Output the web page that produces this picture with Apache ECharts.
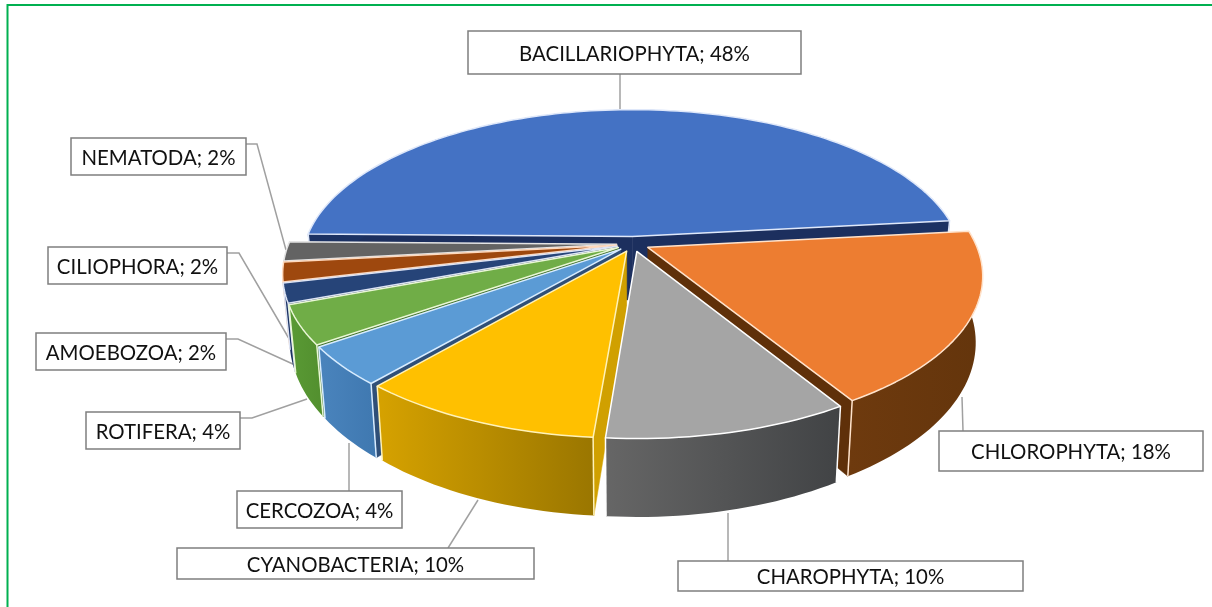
<!DOCTYPE html>
<html><head><meta charset="utf-8">
<style>html,body{margin:0;padding:0;background:#fff}#c{width:1212px;height:607px}</style>
<script src="https://cdn.jsdelivr.net/npm/echarts@6/dist/echarts.min.js"></script>
</head><body><div id="c"></div>
<script>
// ---- data ----
const categories = ['BACILLARIOPHYTA','CHLOROPHYTA','CHAROPHYTA','CYANOBACTERIA','CERCOZOA','ROTIFERA','AMOEBOZOA','CILIOPHORA','NEMATODA'];
const percents = [48,18,10,10,4,4,2,2,2];
// ---- style ----
const topColors = ['#4472C4','#ED7D31','#A5A5A5','#FFC000','#5B9BD5','#70AD47','#264478','#9E480E','#636363'];
const wallColors = [['#1c3263','#1c3263'],['#6e3a0e','#64350c'],['#666666','#414345'],['#d6a200','#9a7600'],['#4a84bd','#3f78b0'],['#5a9a35','#528f2e'],['#1b3260','#1b3260'],['#7c380b','#7c380b'],['#4b4b4b','#4b4b4b']];
const cutColors = ['#1c2f5e','#5f3009','#444','#d0a000','#2f4f78','#3d6e25','#1b3260','#6d3009','#444'];
const edgeColors = ['#dfe8fa','#ffe3cc','#fff','#fff2b8','#d8ecff','#eaf7d6','#dde4f5','#ffd9bd','#e4e4e4'];
const drawOrder = [0,1,8,7,6,5,4,3,2];
// ---- projection of the pie (unit disc → screen) ----
const CX=633, CY=244, RX=328, RY=151.5, PERSP=0.175, HEIGHT=64, BOTTOM_X=0.98, EXPLODE=0.05, START_DEG=271;
function project(u,v,bottom){
  const s=1/(1-PERSP*v);
  let x=CX+RX*u*s, y=CY+RY*v*s;
  if(bottom){x=CX+(x-CX)*BOTTOM_X; y+=HEIGHT*s;}
  return [x,y];
}
function pt(a,r,mid,bottom){ // a, mid: clockwise from the back, radians
  return project(EXPLODE*Math.sin(mid)+r*Math.sin(a), -EXPLODE*Math.cos(mid)-r*Math.cos(a), bottom);
}
const total=percents.reduce((a,b)=>a+b,0);
const spans=[];{let acc=START_DEG;percents.forEach(p=>{const d=p/total*360;spans.push([acc,acc+d]);acc+=d;});}
function arc(a0,a1,mid,bottom){
  const out=[],n=Math.max(6,Math.ceil((a1-a0)/1.5));
  for(let i=0;i<=n;i++){out.push(pt((a0+(a1-a0)*i/n)*Math.PI/180,1,mid,bottom));}
  return out;
}
function poly(points,fill,z2,stroke,lw){
  return {type:'polygon',shape:{points},z2,silent:true,style:{fill,stroke:stroke||fill,lineWidth:lw===undefined?0.5:lw,lineJoin:'round'}};
}
function line(points,stroke,z2,lw){
  return {type:'polyline',shape:{points},z2,silent:true,style:{fill:'none',stroke,lineWidth:lw}};
}
function renderItem(params,api){
  const i=params.dataIndex,[d0,d1]=spans[i];
  const mid=(d0+d1)/2*Math.PI/180;
  const rank=drawOrder.indexOf(i)*10+1;
  const apexT=pt(0,0,mid,false),apexB=pt(0,0,mid,true);
  const rimT=arc(d0,d1,mid,false),rimB=arc(d0,d1,mid,true);
  const kids=[];
  const last=rimT.length-1;
  const cross=(A,B,C)=>(B[0]-A[0])*(C[1]-A[1])-(B[1]-A[1])*(C[0]-A[0]);
  if(cross(apexT,rimT[0],rimB[0])<0) kids.push(poly([apexT,rimT[0],rimB[0],apexB],cutColors[i],rank));
  if(cross(apexT,rimT[last],rimB[last])>0) kids.push(poly([apexT,rimT[last],rimB[last],apexB],cutColors[i],rank));
  const grad=new echarts.graphic.LinearGradient(0,0,1,0,[{offset:0,color:wallColors[i][0]},{offset:1,color:wallColors[i][1]}]);
  kids.push(poly(rimT.concat(rimB.slice().reverse()),grad,rank+1,'none',0));
  kids.push(line([rimT[0],rimB[0]],edgeColors[i],rank+2,1.5));
  kids.push(line([rimT[last],rimB[last]],edgeColors[i],rank+2,1.5));
  kids.push(poly([apexT].concat(rimT),topColors[i],rank+3,edgeColors[i],1.5));
  return {type:'group',children:kids};
}
// ---- labels ----
const labelBoxes=[[468,31,333,43],[939,431,264,40],[678,561,345,30],[177,548,357,31],[237,491,165,37],[86,412,154,37],[36,333,190,37],[48,247,179,37],[71,138,175,37]];
const leaders=[
 [[620,74],[620,110]],
 [[963,431],[962,397]],
 [[728,561],[728,513]],
 [[448,548],[478,500]],
 [[349,491],[349,443]],
 [[240,418],[252,418],[307,399]],
 [[226,339],[238,339],[295,365]],
 [[227,253],[239,253],[291,342]],
 [[246,144],[257,144],[286,250]]
];
const graphics=[{type:'polyline',shape:{points:[[7.5,607],[7.5,5],[1212,5]]},style:{fill:'none',stroke:'#00B050',lineWidth:2},z:1}];
categories.forEach((n,i)=>{
  const [x,y,w,h]=labelBoxes[i];
  graphics.push({type:'polyline',shape:{points:leaders[i]},style:{fill:'none',stroke:'#a0a0a0',lineWidth:1.5},z:5});
  graphics.push({type:'rect',shape:{x,y,width:w,height:h},style:{fill:'#fff',stroke:'#7f7f7f',lineWidth:1.5},z:21});
  graphics.push({type:'text',x:x+w/2,y:y+h/2+1.5,style:{text:n+'; '+percents[i]+'%',font:'20.4px Lato, Carlito, sans-serif',fill:'#111',align:'center',verticalAlign:'middle'},z:22});
});
const chart=echarts.init(document.getElementById('c'),null,{renderer:'canvas'});
chart.setOption({
  animation:false,
  backgroundColor:'#fff',
  graphic:graphics,
  series:[{type:'custom',coordinateSystem:'none',renderItem,silent:true,z:10,
    data:categories.map((n,i)=>({name:n,value:percents[i]}))}]
});
</script></body></html>
